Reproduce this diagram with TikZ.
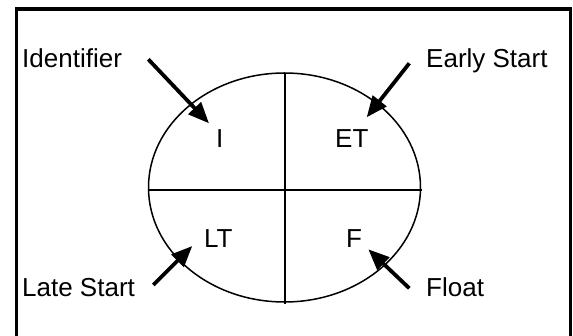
\documentclass[tikz,border=0pt]{standalone}
\usepackage{fontspec}
\setmainfont{Liberation Sans}
\usetikzlibrary{arrows.meta}
\begin{document}
\begin{tikzpicture}[x=1pt,y=-1pt,
  lbl/.style={anchor=base west,inner sep=0pt,font=\fontsize{26}{30}\selectfont},
  ptr/.style={line width=3.8pt,-{Triangle[length=21pt,width=17pt]}},
  thin/.style={line width=1.5pt}]
\useasboundingbox (0,0) rectangle (573,336);
% frame (open at bottom)
\draw[line width=3.5pt] (16.5,340) -- (16.5,9) -- (570.5,9) -- (570.5,340);
% ellipse with cross
\draw[thin] (284.5,187.5) ellipse [x radius=136, y radius=114.5];
\draw[thin] (148,190) -- (422,190);
\draw[thin] (285,73) -- (285,304);
% texts
\node[lbl] (idf) at (22,68) {Identifier};
\node[lbl] (es) at (426,68) {Early Start};
\node[lbl] (ls) at (22,297) {Late Start};
\node[lbl] (fl) at (426,297) {Float};
\node[lbl] (i) at (216,148) {I};
\node[lbl] (et) at (335,148) {ET};
\node[lbl] (lt) at (204,248) {LT};
\node[lbl] (f) at (346,248) {F};
% arrow ends
\coordinate (a1) at (148.3,59.3);  \coordinate (b1) at (209,123.3);
\coordinate (a2) at (409.3,63.3);  \coordinate (b2) at (366.7,117.3);
\coordinate (a3) at (153.3,285);   \coordinate (b3) at (192.3,246);
\coordinate (a4) at (409.3,288.3); \coordinate (b4) at (368.3,249.3);
\draw[ptr] (a1) -- (b1);
\draw[ptr] (a2) -- (b2);
\draw[ptr] (a3) -- (b3);
\draw[ptr] (a4) -- (b4);
\end{tikzpicture}
\end{document}
